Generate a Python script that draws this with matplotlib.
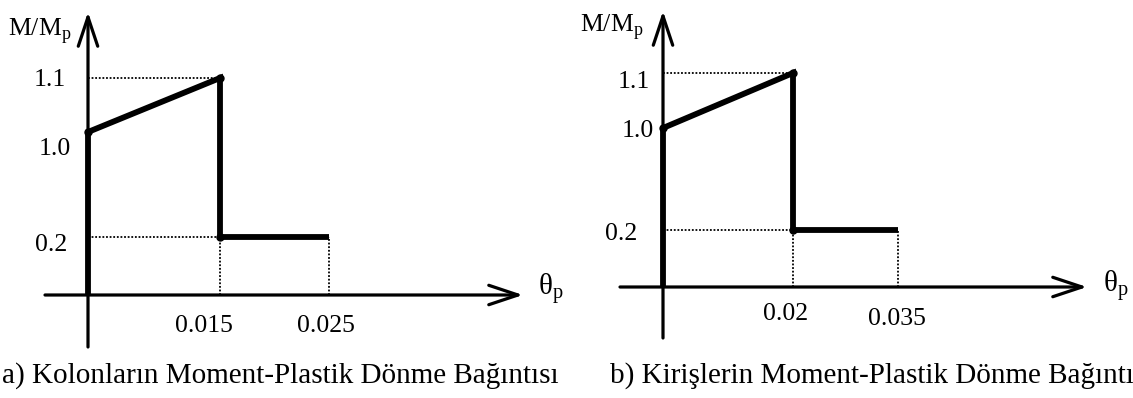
import numpy as np
import matplotlib.pyplot as plt
from matplotlib.patches import FancyArrowPatch

plt.rcParams['font.family'] = 'Liberation Serif'
plt.rcParams['mathtext.fontset'] = 'custom'
plt.rcParams['mathtext.rm'] = 'Liberation Serif'

# a) columns
theta_a = [0, 0, 0.015, 0.015, 0.025]
m_a = [0, 1.0, 1.1, 0.2, 0.2]
xticks_a = [0.015, 0.025]
yticks_a = [0.2, 1.0, 1.1]

# b) beams
theta_b = [0, 0, 0.02, 0.02, 0.035]
m_b = [0, 1.0, 1.1, 0.2, 0.2]
xticks_b = [0.02, 0.035]
yticks_b = [0.2, 1.0, 1.1]

captions = ['a) Kolonların Moment-Plastik Dönme Bağıntısı',
            'b) Kirişlerin Moment-Plastik Dönme Bağıntısı']

W, H = 1133, 398
LBL = 18.5


def stretch(vals, pos):
    # piecewise linear scale: value -> pixels from the origin (sketch is not to scale)
    v = np.asarray(vals, float)
    p = np.asarray(pos, float)
    k0 = (p[1] - p[0]) / (v[1] - v[0])
    k1 = (p[-1] - p[-2]) / (v[-1] - v[-2])
    v = np.r_[v[0] - 10, v, v[-1] + 10]
    p = np.r_[p[0] - 10 * k0, p, p[-1] + 10 * k1]
    return (lambda x: np.interp(x, v, p)), (lambda y: np.interp(y, p, v))


def panel(ax, left, origin, theta, m, xt, yt, xpix, ypix, xaxis, yaxis,
          xlab_off, ylab_off):
    ox, oy = origin
    fx, ix = stretch([0] + xt, xpix)
    fy, iy = stretch([0] + yt, ypix)
    ax.set_xscale('function', functions=(fx, ix))
    ax.set_yscale('function', functions=(fy, iy))
    ax.set_xlim(ix(left - ox), ix(left + W / 2 - ox))
    ax.set_ylim(iy(oy - H), iy(oy))
    ax.axis('off')

    # axes with open arrow heads
    style = '->,head_length=21,head_width=7'
    ax.add_patch(FancyArrowPatch((ix(xaxis[0] - ox), 0), (ix(xaxis[1] - ox), 0),
                                 arrowstyle=style, mutation_scale=1, lw=2.3,
                                 color='black', shrinkA=0, shrinkB=0))
    ax.add_patch(FancyArrowPatch((0, iy(oy - yaxis[0])), (0, iy(oy - yaxis[1])),
                                 arrowstyle=style, mutation_scale=1, lw=2.3,
                                 color='black', shrinkA=0, shrinkB=0))

    # dotted guides
    dot = dict(color='black', lw=1.3, ls=(0, (1, 1)))
    ax.plot([0, theta[2]], [m[2], m[2]], **dot)
    ax.plot([0, theta[-1]], [m[-1], m[-1]], **dot)
    ax.plot([theta[3], theta[3]], [0, m[3]], **dot)
    ax.plot([theta[-1], theta[-1]], [0, m[-1]], **dot)

    # moment - plastic rotation curve
    ax.plot(theta, m, color='black', lw=4.2, solid_joinstyle='miter',
            solid_capstyle='butt')
    ax.plot(theta[1:4], m[1:4], 'o', color='black', ms=5)

    for t, off in zip(xt, xlab_off):
        ax.annotate(f'{t:g}', (t, 0), xytext=off, textcoords='offset pixels',
                    ha='center', va='baseline', fontsize=LBL)
    for v, off in zip(yt, ylab_off):
        ax.annotate(f'{v:.1f}', (0, v), xytext=off, textcoords='offset pixels',
                    ha='right', va='baseline', fontsize=LBL)


fig = plt.figure(figsize=(W / 100, H / 100), dpi=100)
fig.patch.set_facecolor('white')
ax_a = fig.add_axes([0, 0, 0.5, 1])
ax_b = fig.add_axes([0.5, 0, 0.5, 1])

panel(ax_a, 0, (88, 295), theta_a, m_a, xticks_a, yticks_a,
      [0, 132, 241], [0, 58, 163, 217], (45, 523), (347, 12),
      [(-16, -37), (-3, -37)], [(-21, -14.5), (-17, -23.5), (-22, -8.5)])
panel(ax_b, W / 2, (663, 287), theta_b, m_b, xticks_b, yticks_b,
      [0, 130, 235], [0, 57, 159, 214], (620, 1087), (338, 11),
      [(-7, -33), (-1, -38)], [(-26, -9.5), (-9, -8.5), (-13, -15.5)])

# axis titles
for x, y in [(8, 35), (580, 32)]:
    fig.text(x / W, 1 - y / H, 'M/M$_\\mathrm{p}$', fontsize=LBL, va='baseline')
for x, y in [(538, 295), (1103, 292)]:
    fig.text(x / W, 1 - y / H, 'θ$_\\mathrm{p}$', fontsize=21, va='baseline')

# captions under each diagram
for x, txt in zip([2, 610], captions):
    fig.text(x / W, 1 - 383 / H, txt, fontsize=21, va='baseline')

fig.savefig('out.png', dpi=100, facecolor='white')
